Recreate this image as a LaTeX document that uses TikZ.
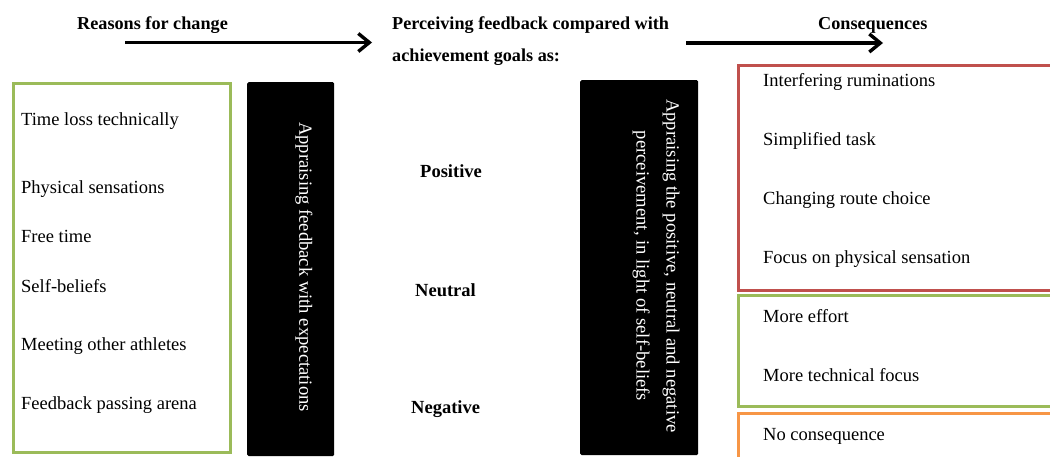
\documentclass[tikz,border=0pt]{standalone}
\usepackage{fontspec}
\setmainfont{Liberation Serif}
\usetikzlibrary{arrows.meta}
\definecolor{boxgreen}{RGB}{155,187,89}
\definecolor{boxred}{RGB}{192,80,77}
\definecolor{boxorange}{RGB}{247,150,70}
\begin{document}
\begin{tikzpicture}[x=1pt,y=-1pt,
  frame/.style={draw=#1, line width=2.6pt, anchor=north west, inner sep=0pt},
  bar/.style={fill=black, rounded corners=1.5pt, anchor=north west, inner sep=0pt},
  item/.style={anchor=base west, inner sep=0pt, font=\fontsize{18.5}{22}\selectfont},
  head/.style={anchor=base west, inner sep=0pt, font=\fontsize{18.2}{22}\selectfont\bfseries},
  mid/.style={anchor=base west, inner sep=0pt, font=\fontsize{18.5}{22}\selectfont\bfseries},
  vert/.style={rotate=-90, text=white, align=center, inner sep=0pt, font=\fontsize{18.6}{30}\selectfont},
  flow/.style={line width=3.2pt, -{Straight Barb[length=11pt, width=18pt, line width=3.4pt]}}]
\clip (0,0) rectangle (1050,457);
\fill[white] (0,0) rectangle (1050,457);

% headings and arrows
\node[head] (hreasons) at (77,30) {Reasons for change};
\node[head] (hperc1) at (392,30) {Perceiving feedback compared with};
\node[head] (hperc2) at (392,62) {achievement goals as:};
\node[head] (hcons) at (818,30) {Consequences};
\coordinate (a1s) at (125,42.5);
\coordinate (a1e) at (372,42.5);
\coordinate (a2s) at (686,43);
\coordinate (a2e) at (883,43);
\draw[flow] (a1s) -- (a1e);
\draw[flow] (a2s) -- (a2e);

% reasons
\node[frame=boxgreen, minimum width=217pt, minimum height=369pt] (reasons) at (12,82) {};
\node[item] (r1) at (21,126) {Time loss technically};
\node[item] (r2) at (21,194) {Physical sensations};
\node[item] (r3) at (21,243) {Free time};
\node[item] (r4) at (21,292) {Self-beliefs};
\node[item] (r5) at (21,350) {Meeting other athletes};
\node[item] (r6) at (21,409) {Feedback passing arena};

% first appraisal bar
\node[bar, minimum width=87pt, minimum height=374pt] (bar1) at (247,82) {};
\node[vert] (bar1text) at (304,267) {Appraising feedback with expectations};

% perceived outcomes
\node[mid] (pos) at (420,178) {Positive};
\node[mid] (neu) at (415,296) {Neutral};
\node[mid] (neg) at (411,413) {Negative};

% second appraisal bar
\node[bar, minimum width=118pt, minimum height=375pt] (bar2) at (580,80) {};
\node[vert] (bar2text) at (656,266) {Appraising the positive, neutral and negative\\perceivement, in light of self-beliefs};

% consequences
\node[frame=boxred, minimum width=330pt, minimum height=225pt] (cred) at (737,64) {};
\node[frame=boxgreen, minimum width=330pt, minimum height=111pt] (cgreen) at (737,294) {};
\node[frame=boxorange, minimum width=330pt, minimum height=60pt] (corange) at (737,412) {};
\node[item] (c1) at (763,87) {Interfering ruminations};
\node[item] (c2) at (763,146) {Simplified task};
\node[item] (c3) at (763,205) {Changing route choice};
\node[item] (c4) at (763,264) {Focus on physical sensation};
\node[item] (c5) at (763,323) {More effort};
\node[item] (c6) at (763,381) {More technical focus};
\node[item] (c7) at (763,440) {No consequence};
\end{tikzpicture}
\end{document}
